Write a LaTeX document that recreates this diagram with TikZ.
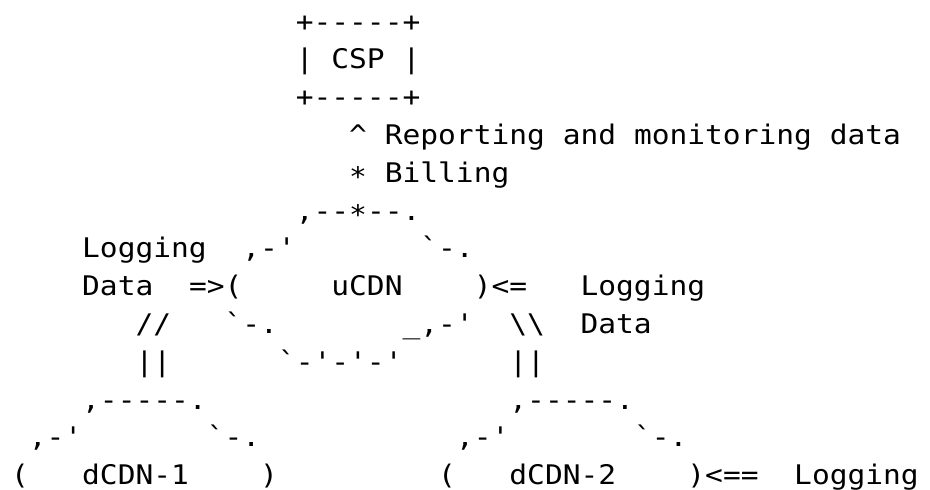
\documentclass[tikz,border=0pt]{standalone}
\usepackage{fontspec}
\setmonofont{DejaVu Sans Mono}[FakeStretch=1.095]
\newcommand\cw{17.8pt}
\newcommand\lh{37.8pt}
\newcommand\lowstar{\raisebox{-4pt}{*}}
\tikzset{seg/.style={anchor=base west,inner sep=0pt,outer sep=0pt,text=black,font=\ttfamily\fontsize{27pt}{37.8pt}\selectfont}}
\newcommand\seg[4]{\node[seg] (#1) at ({11pt+#3*\cw},{-31pt-(#2-1)*\lh}) {#4};}
\begin{document}
\begin{tikzpicture}
\fill[white] (0,0) rectangle (930pt,-490pt);
\useasboundingbox (0,0) rectangle (930pt,-490pt);
% CSP box
\seg{boxtop}{1}{16}{+-----+}
\seg{boxl}{2}{16}{|}
\seg{csp}{2}{18}{CSP}
\seg{boxr}{2}{22}{|}
\seg{boxbot}{3}{16}{+-----+}
% reporting lines
\seg{caret}{4}{19}{\textasciicircum}
\seg{rep1}{4}{21}{Reporting}
\seg{rep2}{4}{31}{and}
\seg{rep3}{4}{35}{monitoring}
\seg{rep4}{4}{46}{data}
\seg{star}{5}{19}{\lowstar}
\seg{bill}{5}{21}{Billing}
% uCDN
\seg{u1}{6}{16}{,--\lowstar--.}
\seg{logl1}{7}{4}{Logging}
\seg{u2l}{7}{13}{,-'}
\seg{u2r}{7}{23}{`-.}
\seg{logl2}{8}{4}{Data}
\seg{arrl}{8}{10}{=>(}
\seg{ucdn}{8}{18}{uCDN}
\seg{arrr}{8}{26}{)<=}
\seg{logr1}{8}{32}{Logging}
\seg{sl}{9}{7}{//}
\seg{u4l}{9}{12}{`-.}
\seg{u4r}{9}{22}{\_,-'}
\seg{bs}{9}{28}{\textbackslash\textbackslash}
\seg{logr2}{9}{32}{Data}
\seg{vl}{10}{7}{||}
\seg{u5}{10}{15}{`-'-'-'}
\seg{vr}{10}{28}{||}
% dCDNs
\seg{d1a}{11}{4}{,-----.}
\seg{d2a}{11}{28}{,-----.}
\seg{d1bl}{12}{1}{,-'}
\seg{d1br}{12}{11}{`-.}
\seg{d2bl}{12}{25}{,-'}
\seg{d2br}{12}{35}{`-.}
\seg{d1l}{13}{0}{(}
\seg{dcdn1}{13}{4}{dCDN-1}
\seg{d1r}{13}{14}{)}
\seg{d2l}{13}{24}{(}
\seg{dcdn2}{13}{28}{dCDN-2}
\seg{d2r}{13}{38}{)<==}
\seg{logd}{13}{44}{Logging}
\end{tikzpicture}
\end{document}
